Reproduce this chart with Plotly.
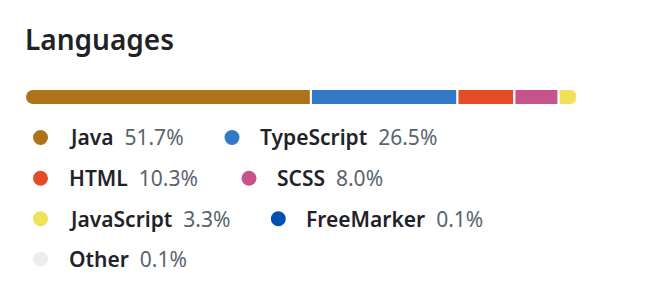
import plotly.graph_objects as go

# ---- data ----
languages = ["Java", "TypeScript", "HTML", "SCSS", "JavaScript", "FreeMarker", "Other"]
percents = [51.7, 26.5, 10.3, 8.0, 3.3, 0.1, 0.1]
colors = ["#b07219", "#3178c6", "#e34c26", "#c6538c", "#f1e05a", "#0050b2", "#ededed"]
title_text = "Languages"

W, H = 646, 285
FONT = "Noto Sans, Open Sans, sans-serif"


def px(x):
    return x / W


def py(y):
    return 1 - y / H


fig = go.Figure()

# First segment is drawn on the negative side so that both outer ends of the
# stacked bar get rounded corners (plotly rounds the outer end of each stack).
first = percents[0]
for i, (name, val, col) in enumerate(zip(languages, percents, colors)):
    fig.add_trace(go.Bar(
        y=[0], x=[-val if i == 0 else val], orientation="h",
        name=name, marker=dict(color=col, line=dict(color="white", width=2)),
        width=16 / 26, customdata=[val],
        hovertemplate=name + " %{customdata:.1f}%<extra></extra>",
        showlegend=False,
    ))

total = sum(percents)
fig.update_layout(
    width=W, height=H, margin=dict(l=0, r=0, t=0, b=0),
    paper_bgcolor="white", plot_bgcolor="white",
    barmode="relative", barcornerradius="50%",
    xaxis=dict(domain=[px(25), px(578)], range=[-first, total - first],
               visible=False, fixedrange=True),
    yaxis=dict(domain=[py(110), py(84)], range=[-0.5, 0.5],
               visible=False, fixedrange=True),
    title=dict(text=title_text, xref="container", yref="container",
               x=px(25), xanchor="left", y=py(40), yanchor="middle",
               font=dict(family=FONT, size=28, color="#1f2328", weight=600)),
)

# ---- legend (manual flow layout like the source) ----
row_y = [137.5, 178.3, 218.8, 259.0]
item_pos = [  # (row, dot center x)
    (0, 40.5), (0, 232.0),
    (1, 40.5), (1, 249.0),
    (2, 40.5), (2, 278.3),
    (3, 40.5),
]
shapes = []
annotations = []
for (row, dx), name, val, col in zip(item_pos, languages, percents, colors):
    y = row_y[row]
    shapes.append(dict(
        type="circle", xref="paper", yref="paper",
        xsizemode="pixel", ysizemode="pixel",
        xanchor=px(dx), yanchor=py(y),
        x0=-7.5, x1=7.5, y0=-7.5, y1=7.5,
        fillcolor=col, line=dict(width=0),
    ))
    annotations.append(dict(
        xref="paper", yref="paper", x=px(dx + 26), y=py(y),
        xanchor="left", yanchor="middle", showarrow=False,
        text=(f"<span style='font-weight:600'>{name}</span>\u00a0 "
              f"<span style='color:#59636e'>{val:.1f}%</span>"),
        font=dict(family=FONT, size=21, color="#1f2328"),
    ))

fig.update_layout(shapes=shapes, annotations=annotations)
fig.write_html("out.html")
